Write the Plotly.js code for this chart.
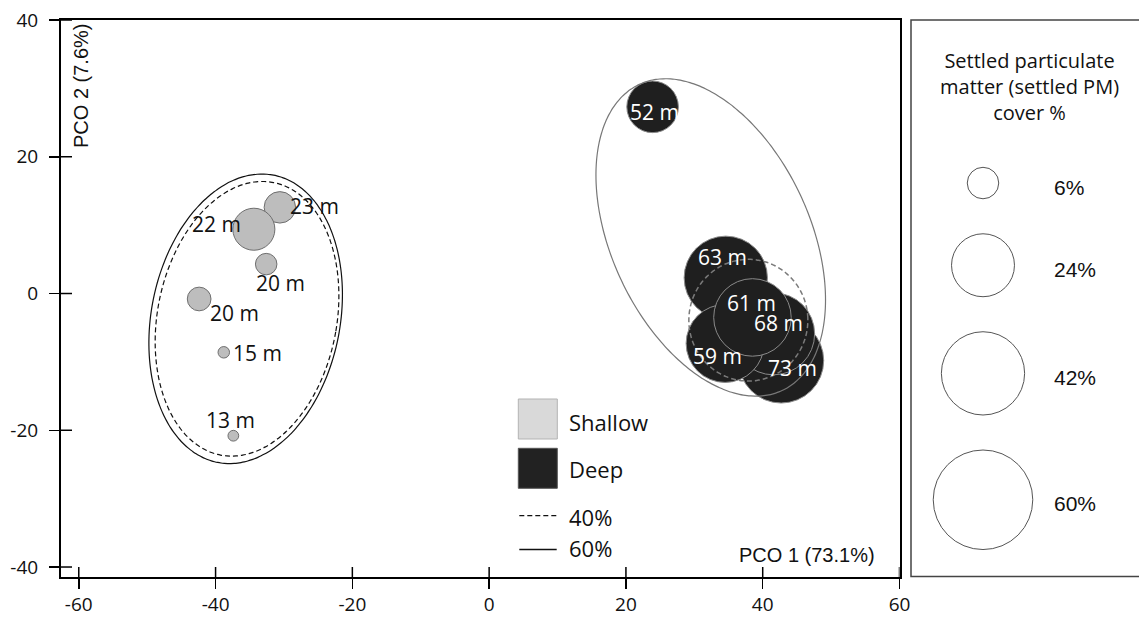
<!DOCTYPE html>
<html><head><meta charset="utf-8">
<script src="https://cdn.plot.ly/plotly-3.0.1.min.js"></script>
<style>html,body{margin:0;padding:0;background:#fff;}#chart{width:1139px;height:618px;}</style>
</head><body><div id="chart"></div>
<script>
// ---------------- data ----------------
const shallowLabels = ['23 m','22 m','20 m','20 m','15 m','13 m'];
const shallowPCO1   = [-30.6, -34.4, -32.6, -42.4, -38.8, -37.4];
const shallowPCO2   = [12.6, 9.4, 4.3, -0.8, -8.6, -20.8];
const shallowPM     = [6.0, 10.7, 2.8, 3.4, 0.8, 0.7];

const deepLabels = ['52 m','73 m','68 m','63 m','59 m','61 m'];
const deepPCO1   = [23.9, 42.7, 41.6, 34.6, 34.5, 38.5];
const deepPCO2   = [27.3, -9.8, -5.9, 2.3, -7.3, -3.5];
const deepPM     = [16.1, 43.8, 40.7, 42.0, 36.8, 36.4];

const sizeLegendValues = [6, 24, 42, 60];
const sizeLegendLabels = ['6%', '24%', '42%', '60%'];
const groupLegendLabels = ['Shallow', 'Deep'];
const contourLegendLabels = ['40%', '60%'];

// similarity contours (ellipses)
const contourGroup     = ['Shallow', 'Shallow', 'Deep', 'Deep'];
const contourLevel     = ['60%', '40%', '60%', '40%'];
const contourCx        = [-35.6, -35.4, 32.4, 37.9];
const contourCy        = [-3.7, -3.7, 8.2, -3.9];
const contourSemiMajor = [21.4, 20.3, 24.7, 8.9];
const contourSemiMinor = [13.8, 13.1, 14.5, 8.7];
const contourTiltDeg   = [11, 11, -25, 0];

const xTicks = [-60, -40, -20, 0, 20, 40, 60];
const yTicks = [-40, -20, 0, 20, 40];
const xTitle = 'PCO 1 (73.1%)';
const yTitle = 'PCO 2 (7.6%)';
const sizeTitle = 'Settled particulate<br>matter (settled PM)<br>cover %';

// ---------------- styles / layout ----------------
const X_RANGE = [-62.6, 60];
const Y_RANGE = [-41.46, 40];
const M = {l: 61, r: 0, t: 20, b: 41};
const PW = 1139 - M.l - M.r, PH = 618 - M.t - M.b;
const PX = px => (px - M.l) / PW;
const PY = py => (618 - M.b - py) / PH;
const SIZE_K = 12.85;               // px diameter per sqrt(% cover)
const diam = v => SIZE_K * Math.sqrt(v);

const shallowFill = '#bdbdbd', shallowLine = '#6e6e6e';
const deepFill = '#1f1f1f', deepLine = '#8a8a8a';
const labelFont = 'Open Sans, DejaVu Sans, sans-serif';
const arialFont = 'Liberation Sans, Arial, sans-serif';

const shallowLabelOffsets = [[35,1.5],[-37,5],[14,-19],[35.5,-13.7],[34,-0.6],[-2.7,15.7]];
const deepLabelOffsets = [[2,-5],[11.8,-7.5],[4.5,10.5],[-3.4,20.6],[-7.4,-12.5],[-0.7,14.8]];

const contourStyle = {
  'Shallow|60%': {color: '#111', width: 1.2, dash: 'solid'},
  'Shallow|40%': {color: '#111', width: 1.2, dash: '5px,3px'},
  'Deep|60%':    {color: '#777', width: 1.2, dash: 'solid'},
  'Deep|40%':    {color: '#7a7a7a', width: 1.5, dash: '5px,3px'}
};

// ---------------- traces ----------------
const traces = [];
traces.push({
  type: 'scatter', mode: 'markers', x: shallowPCO1, y: shallowPCO2, text: shallowLabels,
  marker: {size: shallowPM.map(diam), sizemode: 'diameter', color: shallowFill,
           line: {color: shallowLine, width: 1}, opacity: 1},
  hoverinfo: 'text', showlegend: false, cliponaxis: false
});
traces.push({
  type: 'scatter', mode: 'markers', x: deepPCO1, y: deepPCO2, text: deepLabels,
  marker: {size: deepPM.map(diam), sizemode: 'diameter', color: deepFill,
           line: {color: deepLine, width: 1}, opacity: 1},
  hoverinfo: 'text', showlegend: false, cliponaxis: false
});
for (let i = 0; i < contourCx.length; i++) {
  const th = contourTiltDeg[i] * Math.PI / 180;
  const ex = [], ey = [];
  for (let k = 0; k <= 180; k++) {
    const t = 2 * Math.PI * k / 180;
    const u = contourSemiMinor[i] * Math.cos(t), v = contourSemiMajor[i] * Math.sin(t);
    ex.push(contourCx[i] + v * Math.sin(th) + u * Math.cos(th));
    ey.push(contourCy[i] + v * Math.cos(th) - u * Math.sin(th));
  }
  traces.push({type: 'scatter', mode: 'lines', x: ex, y: ey, hoverinfo: 'skip',
    line: Object.assign({shape: 'spline'}, contourStyle[contourGroup[i] + '|' + contourLevel[i]]),
    showlegend: false});
}

// ---------------- shapes ----------------
const shapes = [];
// inner half of crossing tick marks
xTicks.forEach(t => shapes.push({type: 'line', xref: 'x', yref: 'y', x0: t, x1: t,
  ysizemode: 'pixel', yanchor: Y_RANGE[0], y0: 0, y1: 10, line: {color: '#000', width: 1.5}}));
yTicks.forEach(t => shapes.push({type: 'line', yref: 'y', xref: 'x', y0: t, y1: t,
  xsizemode: 'pixel', xanchor: X_RANGE[0], x0: 0, x1: 11, line: {color: '#000', width: 1.5}}));
// right panel box
shapes.push({type: 'rect', xref: 'paper', yref: 'paper', x0: PX(911), x1: PX(1142),
  y0: PY(576.5), y1: PY(20), line: {color: '#444', width: 1.5}, fillcolor: 'rgba(0,0,0,0)'});
// group legend squares
const sqFill = ['#d9d9d9', '#222222'], sqLine = ['#b3b3b3', '#555555'];
const sqTop = [399, 448.3];
groupLegendLabels.forEach((g, i) => shapes.push({type: 'rect', xref: 'paper', yref: 'paper',
  x0: PX(518.3), x1: PX(557.3), y0: PY(sqTop[i] + 40), y1: PY(sqTop[i]),
  fillcolor: sqFill[i], line: {color: sqLine[i], width: 1}}));
const lnY = [515.7, 549.5];
contourLegendLabels.forEach((c, i) => shapes.push({type: 'line', xref: 'paper', yref: 'paper',
  x0: PX(519.3), x1: PX(556.7), y0: PY(lnY[i]), y1: PY(lnY[i]),
  line: {color: '#111', width: 1.3, dash: i === 0 ? '5px,3px' : 'solid'}}));
// size legend circles, stacked with a constant gap
const sizeCx = 983, sizeGap = 35;
let sizeTop = 167.3;
const sizeCy = [];
sizeLegendValues.forEach(v => {
  const d = diam(v);
  const cy = sizeTop + d / 2;
  sizeCy.push(cy);
  shapes.push({type: 'circle', xref: 'paper', yref: 'paper',
    xsizemode: 'pixel', ysizemode: 'pixel', xanchor: PX(sizeCx), yanchor: PY(cy),
    x0: -d / 2, x1: d / 2, y0: -d / 2, y1: d / 2, line: {color: '#555', width: 1}});
  sizeTop += d + sizeGap;
});

// ---------------- annotations ----------------
const ann = [];
shallowLabels.forEach((t, i) => ann.push({x: shallowPCO1[i], y: shallowPCO2[i], xref: 'x', yref: 'y',
  text: t, showarrow: false, xshift: shallowLabelOffsets[i][0], yshift: shallowLabelOffsets[i][1],
  font: {family: labelFont, size: 21, color: '#111'}}));
deepLabels.forEach((t, i) => ann.push({x: deepPCO1[i], y: deepPCO2[i], xref: 'x', yref: 'y',
  text: t, showarrow: false, xshift: deepLabelOffsets[i][0], yshift: deepLabelOffsets[i][1],
  font: {family: labelFont, size: 21, color: '#ffffff'}}));
ann.push({xref: 'paper', yref: 'paper', x: PX(877), y: PY(555), xanchor: 'right', yanchor: 'middle',
  text: xTitle, showarrow: false, font: {family: arialFont, size: 20, color: '#111'}});
ann.push({xref: 'paper', yref: 'paper', x: PX(81.5), y: PY(86.5), xanchor: 'center', yanchor: 'middle',
  text: yTitle, textangle: -90, showarrow: false, font: {family: arialFont, size: 20, color: '#111'}});
ann.push({xref: 'paper', yref: 'paper', x: PX(1029), y: PY(87), xanchor: 'center', yanchor: 'middle',
  text: sizeTitle, align: 'center', showarrow: false, font: {family: labelFont, size: 20, color: '#111'}});
sizeLegendLabels.forEach((t, i) => ann.push({xref: 'paper', yref: 'paper', x: PX(1051.5), y: PY(sizeCy[i]),
  xanchor: 'left', yanchor: 'middle', yshift: -4, text: t, showarrow: false,
  font: {family: arialFont, size: 21, color: '#111'}}));
const legTextY = [421.7, 469.3, 517.3, 548.3];
groupLegendLabels.concat(contourLegendLabels).forEach((t, i) => ann.push({xref: 'paper', yref: 'paper',
  x: PX(567), y: PY(legTextY[i]), xanchor: 'left', yanchor: 'middle', text: t, showarrow: false,
  font: {family: labelFont, size: 22, color: '#111'}}));

// ---------------- layout ----------------
const axisCommon = {showgrid: false, zeroline: false, showline: true, mirror: true, linecolor: '#000',
  ticks: 'outside', ticklen: 10, tickwidth: 1.5, tickcolor: '#000', fixedrange: true,
  tickfont: {family: labelFont, size: 19, color: '#111'}};
const layout = {
  width: 1139, height: 618, margin: M, paper_bgcolor: '#fff', plot_bgcolor: '#fff',
  showlegend: false,
  xaxis: Object.assign({}, axisCommon, {domain: [0, 838.5 / PW], range: X_RANGE,
    tickmode: 'array', tickvals: xTicks, ticktext: xTicks.map(String), linewidth: 1.6}),
  yaxis: Object.assign({}, axisCommon, {domain: [0, 1], range: Y_RANGE,
    tickmode: 'array', tickvals: yTicks, ticktext: yTicks.map(String), linewidth: 2,
    ticklabelstandoff: 7}),
  shapes: shapes, annotations: ann
};
Plotly.newPlot('chart', traces, layout, {displayModeBar: false, staticPlot: true});
</script></body></html>
